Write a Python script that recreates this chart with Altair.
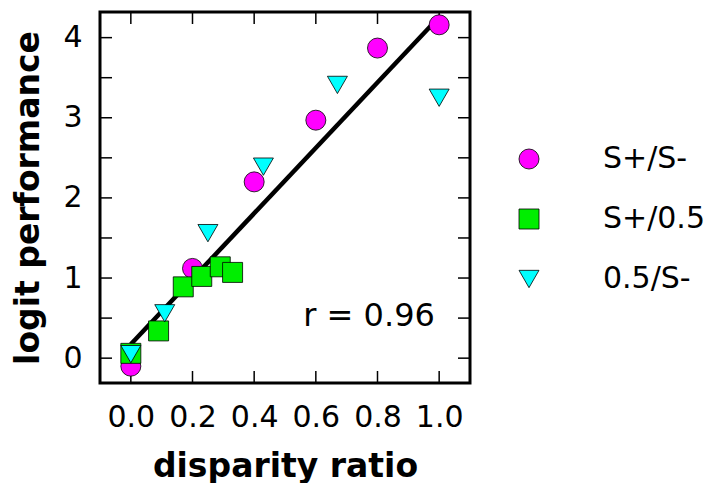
import altair as alt
import pandas as pd

# --- data ---
groups = ["S+/S-", "S+/0.5", "0.5/S-"]
colors = ["#FF00FF", "#00EE00", "#00FFFF"]
shapes = ["circle", "square", "triangle-down"]

x_ss = [0.0, 0.2, 0.4, 0.6, 0.8, 1.0]
y_ss = [-0.10, 1.12, 2.20, 2.97, 3.87, 4.16]

x_s5 = [0.0, 0.09, 0.17, 0.23, 0.29, 0.33]
y_s5 = [0.06, 0.34, 0.89, 1.02, 1.14, 1.07]

x_5s = [0.0, 0.11, 0.25, 0.43, 0.67, 1.0]
y_5s = [0.05, 0.56, 1.56, 2.39, 3.41, 3.25]

x_tick_values = [0.0, 0.2, 0.4, 0.6, 0.8, 1.0]
y_label_values = [0, 1, 2, 3, 4]
y_tick_values = [0, 0.5, 1, 1.5, 2, 2.5, 3, 3.5, 4]

annot_text = ["r = 0.96"]
annot_x = [0.986]
annot_y = [0.40]

x_domain = [-0.1, 1.1]
y_domain = [-0.31, 4.32]

W, H = 370, 371
FONT = "DejaVu Sans"

rows = []
for g, xs, ys in zip(groups, [x_ss, x_s5, x_5s], [y_ss, y_s5, y_5s]):
    for xv, yv in zip(xs, ys):
        rows.append({"ratio": xv, "logit": yv, "group": g})
df = pd.DataFrame(rows)

xscale = alt.Scale(domain=x_domain, nice=False, zero=False)
yscale = alt.Scale(domain=y_domain, nice=False, zero=False)

x_axis = alt.Axis(values=x_tick_values, format=".1f", ticks=False, tickSize=0,
                  domain=False, grid=False, labelFontSize=30, labelFont=FONT,
                  labelColor="black", labelPadding=19,
                  titleFont=FONT, titleFontSize=33, titleFontWeight="bold",
                  titleColor="black", titleBaseline="alphabetic", titleY=93)
y_axis = alt.Axis(values=y_label_values, format="d", ticks=False, tickSize=0,
                  domain=False, grid=False, labelFontSize=30, labelFont=FONT,
                  labelColor="black", labelPadding=18,
                  titleFont=FONT, titleFontSize=33, titleFontWeight="bold",
                  titleColor="black", titleBaseline="middle", titleX=-72)
XT = "disparity ratio"
YT = "logit performance"

base = alt.Chart(df)

line = base.transform_regression("ratio", "logit").mark_line(
    color="black", strokeWidth=4.5
).encode(
    x=alt.X("ratio:Q", scale=xscale, axis=x_axis, title=XT),
    y=alt.Y("logit:Q", scale=yscale, axis=y_axis, title=YT),
)

points = base.mark_point(filled=True, stroke="black", strokeWidth=0.8, opacity=1, size=400).encode(
    x=alt.X("ratio:Q", scale=xscale, axis=x_axis, title=XT),
    y=alt.Y("logit:Q", scale=yscale, axis=y_axis, title=YT),
    color=alt.Color(
        "group:N",
        scale=alt.Scale(domain=groups, range=colors),
        legend=alt.Legend(title=None, orient="none", legendX=414, legendY=132,
                          symbolSize=400, symbolStrokeColor="black", symbolStrokeWidth=0.8,
                          labelFont=FONT, labelFontSize=30, labelColor="black",
                          labelOffset=59, rowPadding=30, padding=0,
                          symbolOpacity=1),
    ),
    shape=alt.Shape("group:N", scale=alt.Scale(domain=groups, range=shapes)),
)

tick_x_df = pd.DataFrame({"ratio": x_tick_values})
tick_y_df = pd.DataFrame({"logit": y_tick_values})

tick_bottom = alt.Chart(tick_x_df).mark_rule(color="black", strokeWidth=1.5).encode(
    x=alt.X("ratio:Q", scale=xscale, axis=x_axis, title=XT), y=alt.value(H), y2=alt.value(H - 12))
tick_top = alt.Chart(tick_x_df).mark_rule(color="black", strokeWidth=1.5).encode(
    x=alt.X("ratio:Q", scale=xscale, axis=x_axis, title=XT), y=alt.value(0), y2=alt.value(12))
tick_left = alt.Chart(tick_y_df).mark_rule(color="black", strokeWidth=1.5).encode(
    y=alt.Y("logit:Q", scale=yscale, axis=y_axis, title=YT), x=alt.value(0), x2=alt.value(12))
tick_right = alt.Chart(tick_y_df).mark_rule(color="black", strokeWidth=1.5).encode(
    y=alt.Y("logit:Q", scale=yscale, axis=y_axis, title=YT), x=alt.value(W), x2=alt.value(W - 12))

annot = alt.Chart(pd.DataFrame({"t": annot_text, "ratio": annot_x, "logit": annot_y})).mark_text(
    align="right", baseline="alphabetic", font=FONT, fontSize=32, color="black"
).encode(
    x=alt.X("ratio:Q", scale=xscale, axis=x_axis, title=XT),
    y=alt.Y("logit:Q", scale=yscale, axis=y_axis, title=YT),
    text="t:N",
)

chart = alt.layer(
    tick_bottom, tick_top, tick_left, tick_right, line, points, annot
).properties(
    width=W, height=H,
    background="white",
    autosize=alt.AutoSizeParams(type="none"),
    padding={"left": 92, "top": 4, "right": 240, "bottom": 100},
).configure_view(
    stroke="black", strokeWidth=3
)

chart.save("out.html", embed_options={"renderer": "svg", "actions": False})
